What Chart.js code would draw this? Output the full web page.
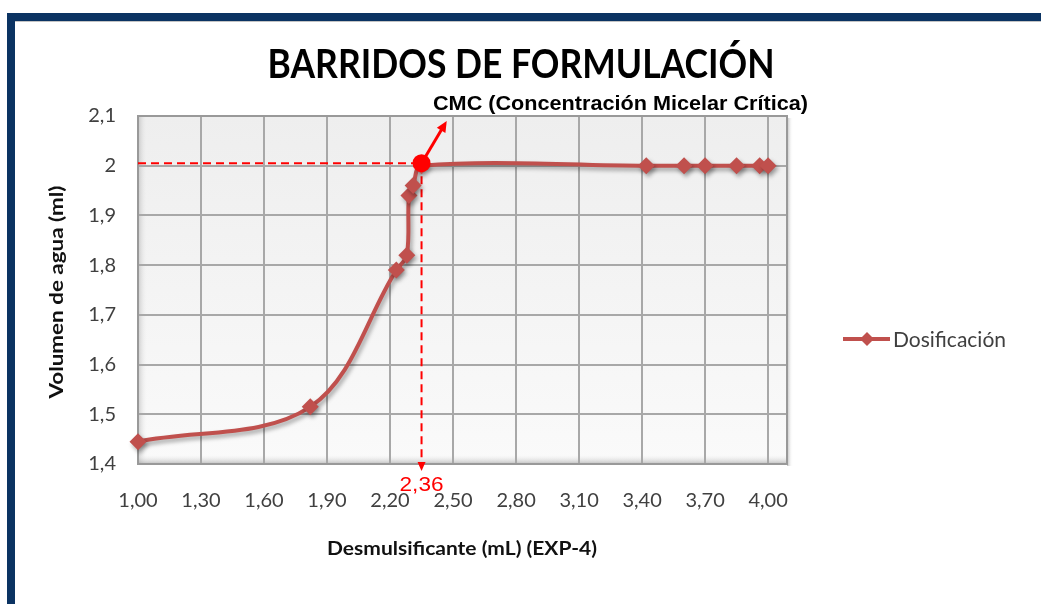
<!DOCTYPE html>
<html>
<head>
<meta charset="utf-8">
<script src="https://cdn.jsdelivr.net/npm/chart.js@4.4.1/dist/chart.umd.min.js"></script>
<style>
html,body{margin:0;padding:0;background:#fff;}
#wrap{position:relative;width:1041px;height:604px;overflow:hidden;background:#fff;}
#c{position:absolute;left:0;top:0;}
.bar{position:absolute;background:#0b3362;}
#frameTop{left:7px;top:13px;width:1034px;height:8px;}
#frameLeft{left:7px;top:13px;width:8px;height:591px;}
#frameLine{position:absolute;left:15px;top:21px;width:1026px;height:1px;background:#c4c4c4;}
</style>
</head>
<body>
<div id="wrap">
  <canvas id="c" width="1041" height="604"></canvas>
  <div class="bar" id="frameTop"></div>
  <div class="bar" id="frameLeft"></div>
  <div id="frameLine"></div>
</div>
<script>
// ---------- data ----------
const chartTitle = 'BARRIDOS DE FORMULACIÓN';
const xAxisTitle = 'Desmulsificante (mL) (EXP-4)';
const yAxisTitle = 'Volumen de agua (ml)';
const seriesName = 'Dosificación';
const cmcText = 'CMC (Concentración Micelar Crítica)';
const cmcLabel = '2,36';

const xTickValues = [1.00, 1.30, 1.60, 1.90, 2.20, 2.50, 2.80, 3.10, 3.40, 3.70, 4.00];
const xTickLabels = ['1,00', '1,30', '1,60', '1,90', '2,20', '2,50', '2,80', '3,10', '3,40', '3,70', '4,00'];
const yTickValues = [1.4, 1.5, 1.6, 1.7, 1.8, 1.9, 2.0, 2.1];
const yTickLabels = ['1,4', '1,5', '1,6', '1,7', '1,8', '1,9', '2', '2,1'];

const dosisML     = [1.00, 1.82, 2.23, 2.28, 2.29, 2.31, 2.35, 3.42, 3.60, 3.70, 3.85, 3.96, 4.00];
const volumenAgua = [1.445, 1.515, 1.79, 1.82, 1.94, 1.96, 2.00, 2.00, 2.00, 2.00, 2.00, 2.00, 2.00];

const cmcPoint = [2.35, 2.005];       // critical micelle concentration point
const cmcArrowTip = [2.47, 2.09];     // end of the pointer arrow

const xMin = 1.0, xMax = 4.09, yMin = 1.4, yMax = 2.1;

// ---------- styles ----------
const SERIES_COLOR = '#C0504D';
const TEXT_COLOR = '#404040';
const RED = '#FF0000';

function drawText(ctx, str, o) {
  ctx.save();
  ctx.font = (o.weight || 'normal') + ' ' + o.size + 'px ' + o.family;
  ctx.fillStyle = o.color || '#000';
  ctx.textBaseline = 'alphabetic';
  ctx.textAlign = o.align || 'left';
  const w = ctx.measureText(str).width;
  const sx = o.width ? o.width / w : 1;
  ctx.translate(o.x, o.y);
  if (o.rotate) ctx.rotate(o.rotate);
  ctx.scale(sx, 1);
  ctx.fillText(str, 0, 0);
  ctx.restore();
}

function arrowHead(ctx, x1, y1, x2, y2, len, half) {
  const a = Math.atan2(y2 - y1, x2 - x1);
  ctx.beginPath();
  ctx.moveTo(x2, y2);
  ctx.lineTo(x2 - len * Math.cos(a) + half * Math.sin(a), y2 - len * Math.sin(a) - half * Math.cos(a));
  ctx.lineTo(x2 - len * Math.cos(a) - half * Math.sin(a), y2 - len * Math.sin(a) + half * Math.cos(a));
  ctx.closePath();
  ctx.fill();
}

const decorPlugin = {
  id: 'decor',
  beforeDraw(chart) {
    const {ctx, chartArea: a} = chart;
    ctx.save();
    const g = ctx.createLinearGradient(0, a.top, 0, a.bottom);
    g.addColorStop(0, '#eeeeee');
    g.addColorStop(1, '#fafafa');
    ctx.fillStyle = g;
    ctx.fillRect(a.left, a.top, a.right - a.left, a.bottom - a.top);
    const gl = ctx.createLinearGradient(a.left, 0, a.left + 10, 0);
    gl.addColorStop(0, 'rgba(150,150,150,0.45)');
    gl.addColorStop(1, 'rgba(255,255,255,0)');
    ctx.fillStyle = gl;
    ctx.fillRect(a.left, a.top, 10, a.bottom - a.top);
    const gb = ctx.createLinearGradient(0, a.bottom - 10, 0, a.bottom);
    gb.addColorStop(0, 'rgba(255,255,255,0)');
    gb.addColorStop(1, 'rgba(140,140,140,0.55)');
    ctx.fillStyle = gb;
    ctx.fillRect(a.left, a.bottom - 10, a.right - a.left, 10);
    const gr = ctx.createLinearGradient(a.right, 0, a.right + 6, 0);
    gr.addColorStop(0, 'rgba(120,120,120,0.5)');
    gr.addColorStop(1, 'rgba(255,255,255,0)');
    ctx.fillStyle = gr;
    ctx.fillRect(a.right, a.top + 2, 6, a.bottom - a.top);
    ctx.restore();
  },
  beforeDatasetsDraw(chart) {
    const {ctx, chartArea: a, scales: {x, y}} = chart;
    ctx.save();
    ctx.strokeStyle = '#999999';
    ctx.lineWidth = 2;
    ctx.strokeRect(a.left, a.top, a.right - a.left, a.bottom - a.top);
    const px = x.getPixelForValue(cmcPoint[0]);
    const py = y.getPixelForValue(cmcPoint[1]);
    ctx.strokeStyle = RED;
    ctx.lineWidth = 2;
    ctx.setLineDash([8, 5]);
    ctx.beginPath();
    ctx.moveTo(a.left, py);
    ctx.lineTo(px, py);
    ctx.moveTo(px, py);
    ctx.lineTo(px, a.bottom);
    ctx.stroke();
    ctx.setLineDash([]);
    ctx.fillStyle = RED;
    arrowHead(ctx, px, py, px, a.bottom + 7, 9, 4);
    ctx.restore();
  },
  beforeDatasetDraw(chart, args) {
    if (args.index === 1) {
      const ctx = chart.ctx;
      ctx.save();
      ctx.shadowColor = 'rgba(0,0,0,0.35)';
      ctx.shadowBlur = 4;
      ctx.shadowOffsetX = 2;
      ctx.shadowOffsetY = 3;
    }
  },
  afterDatasetDraw(chart, args) {
    if (args.index === 1) chart.ctx.restore();
  },
  afterDatasetsDraw(chart) {
    const {ctx, scales: {x, y}} = chart;
    const px = x.getPixelForValue(cmcPoint[0]);
    const py = y.getPixelForValue(cmcPoint[1]);
    const tx = x.getPixelForValue(cmcArrowTip[0]);
    const ty = y.getPixelForValue(cmcArrowTip[1]);
    ctx.save();
    ctx.strokeStyle = RED;
    ctx.fillStyle = RED;
    ctx.lineWidth = 3;
    const a = Math.atan2(ty - py, tx - px);
    ctx.beginPath();
    ctx.moveTo(px, py);
    ctx.lineTo(tx - 8 * Math.cos(a), ty - 8 * Math.sin(a));
    ctx.stroke();
    arrowHead(ctx, px, py, tx, ty, 11, 5);
    ctx.restore();
  },
  afterDraw(chart) {
    const ctx = chart.ctx;
    const ds = chart.data.datasets[1];
    drawText(ctx, chartTitle, {family: 'Lato', weight: 'bold', size: 41, color: '#000', x: 521, y: 78, align: 'center', width: 507});
    drawText(ctx, cmcText, {family: '"Liberation Sans"', weight: 'bold', size: 21, color: '#000', x: 433, y: 110, width: 375});
    drawText(ctx, cmcLabel, {family: '"Liberation Sans"', size: 21, color: RED, x: chart.scales.x.getPixelForValue(cmcPoint[0]), y: 491, align: 'center', width: 44});
    drawText(ctx, xAxisTitle, {family: 'Lato', weight: 'bold', size: 19, color: '#111', x: 462, y: 555, align: 'center', width: 270});
    drawText(ctx, yAxisTitle, {family: 'Lato', weight: 'bold', size: 19, color: '#111', x: 63, y: 292, align: 'center', width: 213, rotate: -Math.PI / 2});
    ctx.save();
    ctx.strokeStyle = ds.borderColor;
    ctx.lineWidth = 4;
    ctx.beginPath();
    ctx.moveTo(843, 339);
    ctx.lineTo(890, 339);
    ctx.stroke();
    ctx.fillStyle = ds.backgroundColor;
    ctx.beginPath();
    ctx.moveTo(867, 332); ctx.lineTo(874, 339); ctx.lineTo(867, 346); ctx.lineTo(860, 339);
    ctx.closePath();
    ctx.fill();
    ctx.restore();
    drawText(ctx, seriesName, {family: 'Lato', size: 21, color: TEXT_COLOR, x: 893, y: 347, width: 113});
  }
};

new Chart(document.getElementById('c'), {
  type: 'line',
  data: {
    datasets: [
      {
        label: 'CMC',
        data: [{x: cmcPoint[0], y: cmcPoint[1]}],
        showLine: false,
        pointStyle: 'circle',
        pointRadius: 9,
        backgroundColor: RED,
        borderColor: RED,
        borderWidth: 0,
        clip: false,
        order: 0
      },
      {
        label: seriesName,
        data: dosisML.map((v, i) => ({x: v, y: volumenAgua[i]})),
        borderColor: SERIES_COLOR,
        backgroundColor: SERIES_COLOR,
        borderWidth: 4,
        pointStyle: 'rectRot',
        pointRadius: 8.5,
        pointBorderWidth: 0,
        tension: 0.35,
        clip: false,
        order: 1
      }
    ]
  },
  options: {
    responsive: false,
    animation: false,
    events: [],
    layout: {padding: {left: 0, top: 116, right: 254, bottom: 0}},
    plugins: {
      legend: {display: false},
      title: {display: false},
      tooltip: {enabled: false}
    },
    scales: {
      x: {
        type: 'linear',
        min: xMin,
        max: xMax,
        afterBuildTicks: s => { s.ticks = xTickValues.map(v => ({value: v})); },
        afterFit: s => { s.height = 140; },
        ticks: {
          autoSkip: false,
          maxRotation: 0,
          padding: 25,
          color: TEXT_COLOR,
          font: {family: 'Lato', size: 20},
          callback: (v, i) => xTickLabels[i]
        },
        grid: {color: '#a8a8a8', lineWidth: 2, drawTicks: false},
        border: {display: false}
      },
      y: {
        type: 'linear',
        min: yMin,
        max: yMax,
        afterBuildTicks: s => { s.ticks = yTickValues.map(v => ({value: v})); },
        afterFit: s => { s.width = 138; },
        ticks: {
          padding: 22,
          color: TEXT_COLOR,
          font: {family: 'Lato', size: 20},
          callback: (v, i) => yTickLabels[i]
        },
        grid: {color: '#a8a8a8', lineWidth: 2, drawTicks: false},
        border: {display: false}
      }
    }
  },
  plugins: [decorPlugin]
});
</script>
</body>
</html>
